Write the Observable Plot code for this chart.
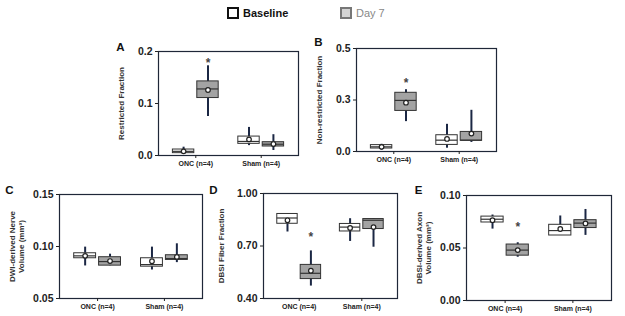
<!DOCTYPE html>
<html><head><meta charset="utf-8">
<script src="https://cdn.jsdelivr.net/npm/d3@7"></script>
<script src="https://cdn.jsdelivr.net/npm/@observablehq/plot@0.6"></script>
<style>
body{margin:0;background:#fff;font-family:"Liberation Sans",Arial,sans-serif;}
#fig{position:relative;width:625px;height:316px;overflow:hidden;background:#fff;}
.panel{position:absolute;}
.lg{position:absolute;font-size:11px;line-height:12px;}
.sw{position:absolute;width:8px;height:8px;}
</style></head><body>
<div id="fig">
  <div class="sw" style="left:227px;top:7px;border:2px solid #111;background:#fff;"></div>
  <div class="lg" style="left:243px;top:7px;font-weight:bold;color:#111;">Baseline</div>
  <div class="sw" style="left:340px;top:7px;border:2px solid #777;background:#d4d4d4;"></div>
  <div class="lg" style="left:356px;top:7px;color:#888;">Day 7</div>
</div>
<script>
// categories
const groups = ["ONC (n=4)", "Sham (n=4)"];
const series = ["Baseline", "Day 7"];
// each row: [whiskerLow, q1, median, q3, whiskerHigh, mean]
// row order: ONC Baseline, ONC Day 7, Sham Baseline, Sham Day 7
const restrictedFraction = [
  [0.002, 0.0045, 0.008, 0.0115, 0.016, 0.008],
  [0.075, 0.1105, 0.128, 0.1425, 0.1725, 0.126],
  [0.019, 0.0224, 0.027, 0.0364, 0.054, 0.031],
  [0.0096, 0.0173, 0.0217, 0.0256, 0.040, 0.022]
];
const nonRestrictedFraction = [
  [0.006, 0.0145, 0.0226, 0.031, 0.035, 0.0226],
  [0.145, 0.197, 0.248, 0.285, 0.30, 0.237],
  [0.016, 0.032, 0.055, 0.079, 0.132, 0.061],
  [0.044, 0.052, 0.055, 0.095, 0.20, 0.087]
];
const nerveVolume = [
  [0.0813, 0.0887, 0.0910, 0.0935, 0.0994, 0.0910],
  [0.0815, 0.0816, 0.0855, 0.0897, 0.0926, 0.0860],
  [0.0774, 0.0806, 0.0826, 0.0887, 0.0994, 0.0858],
  [0.0845, 0.0871, 0.0884, 0.0916, 0.1026, 0.0900]
];
const fiberFraction = [
  [0.780, 0.827, 0.860, 0.883, 0.883, 0.847],
  [0.471, 0.511, 0.544, 0.592, 0.672, 0.559],
  [0.726, 0.783, 0.808, 0.826, 0.856, 0.803],
  [0.693, 0.797, 0.847, 0.854, 0.856, 0.808]
];
const axonVolume = [
  [0.0680, 0.0743, 0.0774, 0.0799, 0.0814, 0.0765],
  [0.0412, 0.0427, 0.0480, 0.0533, 0.0550, 0.0480],
  [0.0620, 0.0619, 0.0666, 0.0721, 0.0805, 0.0681],
  [0.0620, 0.0690, 0.0737, 0.0765, 0.0867, 0.0734]
];
// significance asterisks (ONC, Day 7)
const starA = [0.183];
const starB = [0.345];
const starD = [0.770];
const starE = [0.0725];
// axis ticks
const ticksA = [0, 0.1, 0.2],       labelsA = ["0.0", "0.1", "0.2"];
const ticksB = [0, 0.25, 0.5],      labelsB = ["0.0", "0.3", "0.5"];
const ticksC = [0.05, 0.10, 0.15],  labelsC = ["0.05", "0.10", "0.15"];
const ticksD = [0.40, 0.70, 1.00],  labelsD = ["0.40", "0.70", "1.00"];
const ticksE = [0, 0.05, 0.10],     labelsE = ["0.00", "0.05", "0.10"];

const FONT = "Liberation Sans, Arial, sans-serif";
const INK = "#222";
const FRAME = "#1f2738";
const WHISK = "#1b2744";
const DAYFILL = "#a3a3a3";

function rowsOf(stats) {
  return stats.map((s, i) => ({
    group: groups[Math.floor(i / 2)], series: series[i % 2],
    lo: s[0], q1: s[1], med: s[2], q3: s[3], hi: s[4], mean: s[5]
  }));
}

function panel(o) {
  const pi = 0.3, po = 0.22, gap = 3;
  const innerW = o.width - o.ml - o.mr;
  const step = innerW / (2 - pi + 2 * po);
  const bw = step * (1 - pi);
  const half = bw / 2;
  const off = (half + gap / 2) / 2;
  const rows = rowsOf(o.stats);
  const marks = [];
  series.forEach((s, k) => {
    const d = rows.filter(r => r.series === s);
    const dx = k === 0 ? -off : off;
    const inL = k === 0 ? 0 : half + gap / 2;
    const inR = k === 0 ? half + gap / 2 : 0;
    const fill = k === 0 ? "#fff" : DAYFILL;
    marks.push(
      Plot.ruleX(d, {x: "group", y1: "lo", y2: "hi", dx, stroke: WHISK, strokeWidth: 2}),
      Plot.barY(d, {x: "group", y1: "q1", y2: "q3", fill, stroke: "#333", strokeWidth: 1, insetLeft: inL, insetRight: inR}),
      Plot.tickY(d, {x: "group", y: "med", stroke: "#333", strokeWidth: 1.2, insetLeft: inL, insetRight: inR}),
      Plot.dot(d, {x: "group", y: "mean", dx, r: 2.3, fill: "#fff", stroke: "#222", strokeWidth: 1.2})
    );
  });
  marks.push(
    Plot.text(o.star.map(v => ({group: groups[0], v})), {x: "group", y: "v", text: () => "*", dx: off, dy: 3, fontSize: 12, fontWeight: "bold", fill: "#444"}),
    Plot.frame({stroke: FRAME, strokeWidth: 1.2}),
    Plot.axisY({ticks: o.ticks, tickFormat: d => o.labels[o.ticks.indexOf(d)], tickSize: 3, tickPadding: 3, fontSize: 10.5, fontWeight: "bold", label: null, stroke: INK, fill: INK}),
    Plot.axisX({tickSize: 3, tickPadding: 3, fontSize: 7, fontWeight: "bold", label: null, stroke: INK, fill: INK}),
    Plot.text([o.title], {text: d => d, frameAnchor: "left", textAnchor: "middle", lineAnchor: "middle", rotate: -90, dx: -o.titleDx, fontSize: 8, fontWeight: "bold", fill: "#333", lineHeight: 1.2}),
    Plot.text([o.letter], {text: d => d, frameAnchor: "top-left", textAnchor: "middle", dx: -o.letterDx, dy: -o.letterDy, fontSize: 11.5, fontWeight: "bold", fill: "#111"})
  );
  const chart = Plot.plot({
    width: o.width, height: o.height,
    marginLeft: o.ml, marginRight: o.mr, marginTop: o.mt, marginBottom: o.mb,
    style: {background: "transparent", overflow: "visible", fontFamily: FONT, color: INK},
    x: {type: "band", domain: groups, paddingInner: pi, paddingOuter: po, round: false, axis: null},
    y: {domain: [o.ticks[0], o.ticks[o.ticks.length - 1]], axis: null},
    marks
  });
  const div = document.createElement("div");
  div.className = "panel";
  div.style.left = o.left + "px";
  div.style.top = o.top + "px";
  div.appendChild(chart);
  document.getElementById("fig").appendChild(div);
}

panel({letter: "A", title: "Restricted Fraction", stats: restrictedFraction, star: starA, ticks: ticksA, labels: labelsA,
  left: 100, top: 30, width: 205, height: 140, ml: 58, mr: 7, mt: 21, mb: 15, titleDx: 38, letterDx: 38, letterDy: 9});
panel({letter: "B", title: "Non-restricted Fraction", stats: nonRestrictedFraction, star: starB, ticks: ticksB, labels: labelsB,
  left: 298, top: 28, width: 205, height: 140, ml: 58, mr: 7, mt: 20, mb: 17, titleDx: 38, letterDx: 38, letterDy: 11});
panel({letter: "C", title: "DWI-derived Nerve\nVolume (mm³)", stats: nerveVolume, star: [], ticks: ticksC, labels: labelsC,
  left: 0, top: 176, width: 208, height: 140, ml: 59, mr: 6, mt: 18, mb: 18, titleDx: 43, letterDx: 50, letterDy: 9});
panel({letter: "D", title: "DBSI Fiber Fraction", stats: fiberFraction, star: starD, ticks: ticksD, labels: labelsD,
  left: 208, top: 176, width: 196, height: 140, ml: 55, mr: 7, mt: 17, mb: 18, titleDx: 43, letterDx: 50, letterDy: 8});
panel({letter: "E", title: "DBSI-derived Axon\nVolume (mm³)", stats: axonVolume, star: starE, ticks: ticksE, labels: labelsE,
  left: 410, top: 176, width: 213, height: 140, ml: 56, mr: 12, mt: 19, mb: 16, titleDx: 43, letterDx: 48, letterDy: 10});
</script>
</body></html>
